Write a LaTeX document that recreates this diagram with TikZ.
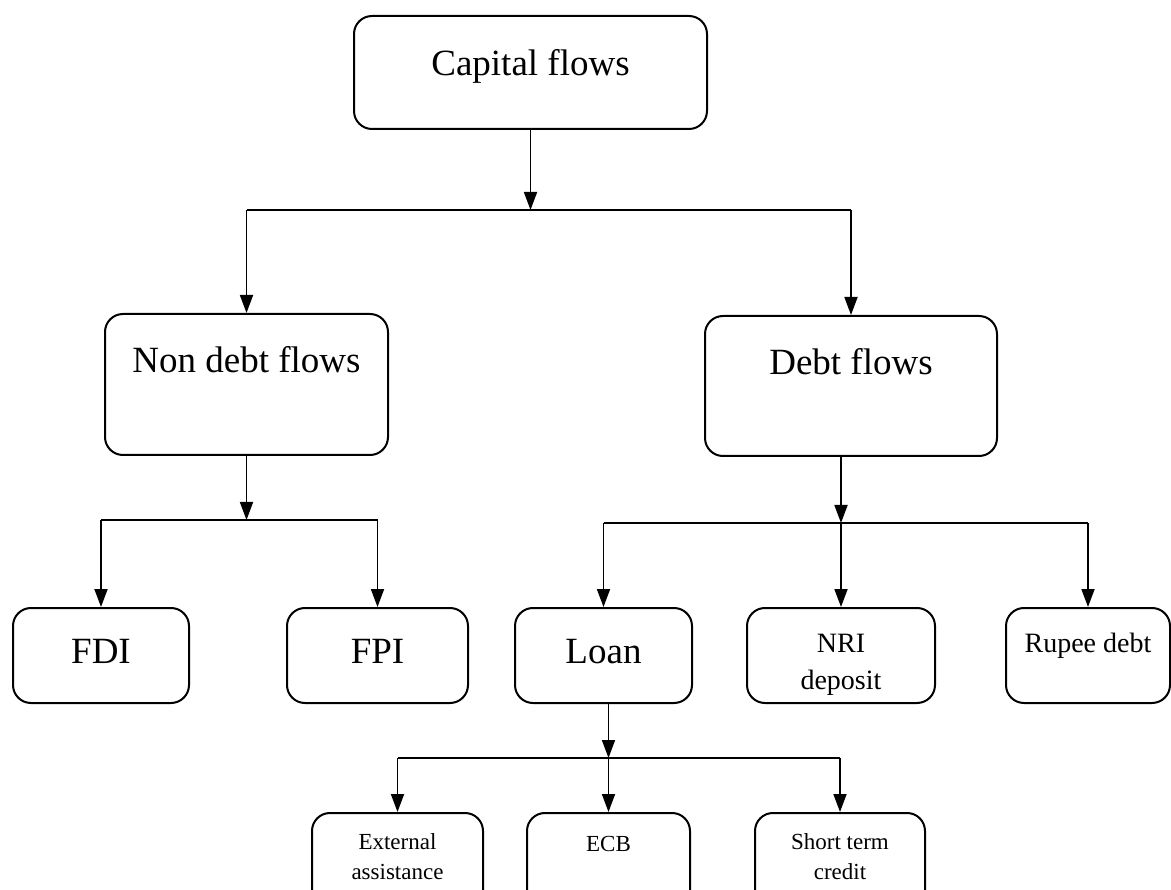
\documentclass[tikz,border=0pt]{standalone}
\usepackage{fontspec}
\setmainfont{Liberation Serif}
\usetikzlibrary{arrows.meta}

\tikzset{
 flowbox/.style={draw, line width=2pt, rounded corners=18pt, anchor=north, inner sep=0pt, align=center},
 bigtxt/.style={font=\fontsize{37}{40}\selectfont},
 midtxt/.style={font=\fontsize{28}{37}\selectfont},
 smalltxt/.style={font=\fontsize{23}{30}\selectfont},
 flowline/.style={line width=1.8pt},
 arr/.style={line width=1.8pt, -{Triangle[length=18pt,width=13pt]}}
}

\begin{document}
\begin{tikzpicture}[x=1pt, y=-1pt]
\useasboundingbox (0,0) rectangle (1171,890);
% boxes
\node[flowbox, bigtxt, minimum width=353, text height=60, text depth=53] (cap) at (530.5,15) {Capital flows};
\node[flowbox, bigtxt, minimum width=283, text height=59, text depth=82] (nondebt) at (246.5,313) {Non debt flows};
\node[flowbox, bigtxt, minimum width=292, text height=59, text depth=81] (debt) at (851,315) {Debt flows};
\node[flowbox, bigtxt, minimum width=176, text height=55, text depth=40] (fdi) at (101,607) {FDI};
\node[flowbox, bigtxt, minimum width=181, text height=55, text depth=40] (fpi) at (377.5,607) {FPI};
\node[flowbox, bigtxt, minimum width=177, text height=55, text depth=40] (loan) at (603.5,607) {Loan};
\node[flowbox, midtxt, minimum width=188, text height=81, text depth=14] (nri) at (841,607) {NRI\\deposit};
\node[flowbox, midtxt, minimum width=164, text height=44, text depth=51] (rupee) at (1088,607) {Rupee debt};
\node[flowbox, smalltxt, minimum width=171, text height=66, text depth=29] (extass) at (397.5,812) {External\\assistance};
\node[flowbox, smalltxt, minimum width=163, text height=38, text depth=57] (ecb) at (608.5,812) {ECB};
\node[flowbox, smalltxt, minimum width=170, text height=66, text depth=29] (stc) at (840,812) {Short term\\credit};
% junctions
\coordinate (j1) at (530,210);
\coordinate (j2) at (244,520);
\coordinate (j3) at (841,523);
\coordinate (j4) at (610,758);
% capital flows
\draw[arr] (cap.south) -- (cap.south |- j1);
\draw[flowline] (nondebt.north |- j1) -- (debt.north |- j1);
\foreach \n in {nondebt,debt} {
 \draw[arr] (\n.north |- j1) -- (\n.north);
}
% non debt flows
\draw[arr] (nondebt.south) -- (nondebt.south |- j2);
\draw[flowline] (fdi.north |- j2) -- (fpi.north |- j2);
\foreach \n in {fdi,fpi} {
 \draw[arr] (\n.north |- j2) -- (\n.north);
}
% debt flows
\draw[arr] (debt.south -| nri.north) -- (nri.north |- j3);
\draw[flowline] (loan.north |- j3) -- (rupee.north |- j3);
\foreach \n in {loan,nri,rupee} {
 \draw[arr] (\n.north |- j3) -- (\n.north);
}
% loan
\draw[arr] (loan.south -| ecb.north) -- (ecb.north |- j4);
\draw[flowline] (extass.north |- j4) -- (stc.north |- j4);
\foreach \n in {extass,ecb,stc} {
 \draw[arr] (\n.north |- j4) -- (\n.north);
}
\end{tikzpicture}
\end{document}
